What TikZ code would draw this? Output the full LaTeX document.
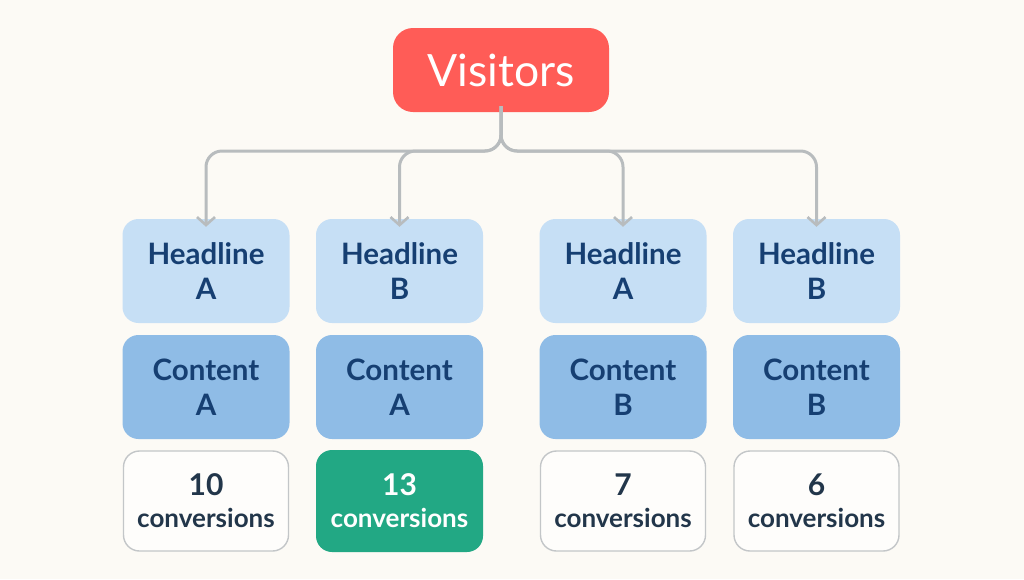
\documentclass[tikz,border=0pt]{standalone}
\usepackage{fontspec}
\setmainfont{Lato}
\usetikzlibrary{arrows.meta}
\definecolor{bgc}{HTML}{FCFAF5}
\definecolor{visred}{HTML}{FF5C57}
\definecolor{headfill}{HTML}{C6DFF5}
\definecolor{contfill}{HTML}{8FBCE6}
\definecolor{navy}{HTML}{163F72}
\definecolor{darktext}{HTML}{22364A}
\definecolor{greyline}{HTML}{B8BCBE}
\definecolor{boxborder}{HTML}{C3C6C8}
\definecolor{greenbox}{HTML}{22A884}
\begin{document}
\begin{tikzpicture}[x=1pt,y=-1pt,
  box/.style={rounded corners=16pt, minimum width=167pt, minimum height=104pt, align=center, inner sep=0pt},
  headbox/.style={box, fill=headfill, text=navy, font=\fontsize{29.5}{35}\selectfont\bfseries},
  contbox/.style={box, fill=contfill, text=navy, font=\fontsize{29.5}{35}\selectfont\bfseries},
  convbox/.style={box, minimum width=165pt, minimum height=100pt, fill=white!60!bgc, draw=boxborder, line width=1.4pt, text=darktext, font=\fontsize{26}{32}\selectfont\bfseries},
  winbox/.style={box, minimum height=102pt, fill=greenbox, text=white, font=\fontsize{26}{32}\selectfont\bfseries},
  conn/.style={draw=greyline, line width=3pt, rounded corners=16pt, -{Straight Barb[length=8pt,width=18pt,line width=2.6pt]}}
]
\useasboundingbox[fill=bgc] (0,0) rectangle (1024,579);
\node[rounded corners=20pt, fill=visred, minimum width=216pt, minimum height=84pt, text=white, font=\fontsize{44.5}{50}\selectfont] (vis) at (501,70) {Visitors};
\coordinate (split) at (501,151);

\node[headbox] (h1) at (206,271) {Headline\\A};
\node[headbox] (h2) at (399.5,271) {Headline\\B};
\node[headbox] (h3) at (623,271) {Headline\\A};
\node[headbox] (h4) at (816.5,271) {Headline\\B};

\node[contbox] (c1) at (206,387) {Content\\A};
\node[contbox] (c2) at (399.5,387) {Content\\A};
\node[contbox] (c3) at (623,387) {Content\\B};
\node[contbox] (c4) at (816.5,387) {Content\\B};

\node[convbox] (r1) at (206,501) {\fontsize{30}{32}\selectfont 10\\conversions};
\node[winbox] (r2) at (399.5,501) {\fontsize{30}{32}\selectfont 13\\conversions};
\node[convbox] (r3) at (623,501) {\fontsize{30}{32}\selectfont 7\\conversions};
\node[convbox] (r4) at (816.5,501) {\fontsize{30}{32}\selectfont 6\\conversions};

\foreach \t in {h1,h2,h3,h4}{
  \draw[conn] ([yshift=6pt]vis.south) -- (split) -| ([yshift=-8pt]\t.north);
}
\end{tikzpicture}
\end{document}
